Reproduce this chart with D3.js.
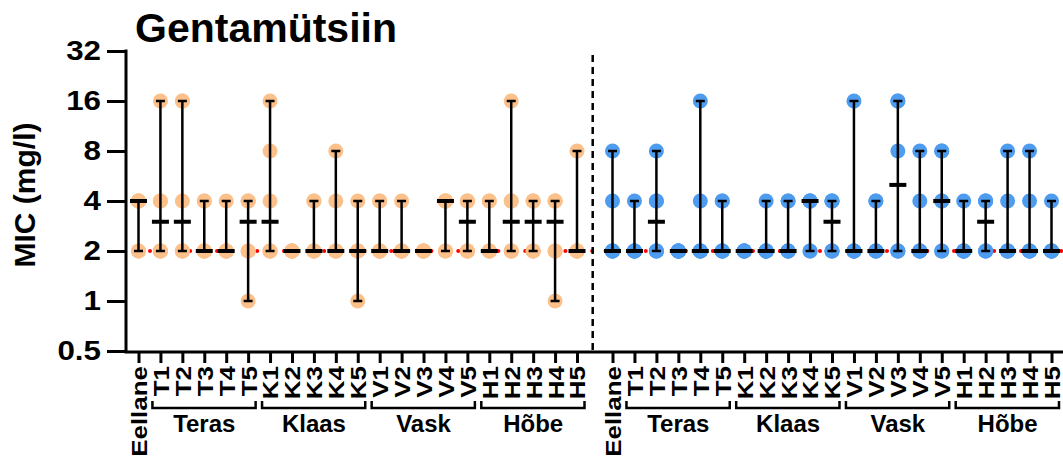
<!DOCTYPE html>
<html>
<head>
<meta charset="utf-8">
<script src="https://cdn.jsdelivr.net/npm/d3@7"></script>
<style>
  html, body { margin: 0; padding: 0; background: #fff; }
  svg { display: block; }
  text { font-family: "Liberation Sans", Arial, Helvetica, sans-serif; font-weight: bold; fill: #000; }
</style>
</head>
<body>
<svg id="chart" width="1063" height="461"></svg>
<script>
// Categories along the x axis (same set in each panel)
const categories = ["Eellane","T1","T2","T3","T4","T5","K1","K2","K3","K4","K5",
                    "V1","V2","V3","V4","V5","H1","H2","H3","H4","H5"];

// Material groups shown with brackets under the tick labels
const groupNames = ["Teras","Klaas","Vask","Hõbe"];
const groupFirst = ["T1","K1","V1","H1"];
const groupLast  = ["T5","K5","V5","H5"];

// Y axis tick values (mg/l), log2 scale
const yTicks = [0.5, 1, 2, 4, 8, 16, 32];

// Reference MIC level drawn as a dotted line
const referenceMic = 2;

// MIC replicates per category, left panel
const leftValues = [
  [2,2,4,4,4,4],    // Eellane
  [2,2,2,4,4,16],   // T1
  [2,2,2,4,16,16],  // T2
  [2,2,2,2,4,4],    // T3
  [2,2,2,2,2,4],    // T4
  [1,2,2,4,4,4],    // T5
  [2,2,2,4,8,16],   // K1
  [2,2,2,2,2,2],    // K2
  [2,2,2,2,4,4],    // K3
  [2,2,2,2,4,8],    // K4
  [1,2,2,2,2,4],    // K5
  [2,2,2,2,4,4],    // V1
  [2,2,2,2,2,4],    // V2
  [2,2,2,2,2,2],    // V3
  [2,2,4,4,4,4],    // V4
  [2,2,2,4,4,4],    // V5
  [2,2,2,2,4,4],    // H1
  [2,2,2,4,4,16],   // H2
  [2,2,2,4,4,4],    // H3
  [1,2,2,4,4,4],    // H4
  [2,2,2,2,2,8]     // H5
];

// MIC replicates per category, right panel
const rightValues = [
  [2,2,2,2,4,8],    // Eellane
  [2,2,2,2,2,4],    // T1
  [2,2,2,4,4,8],    // T2
  [2,2,2,2,2,2],    // T3
  [2,2,2,2,4,16],   // T4
  [2,2,2,2,4,4],    // T5
  [2,2,2,2,2,2],    // K1
  [2,2,2,2,2,4],    // K2
  [2,2,2,2,4,4],    // K3
  [2,2,4,4,4,4],    // K4
  [2,2,2,4,4,4],    // K5
  [2,2,2,2,2,16],   // V1
  [2,2,2,2,4,4],    // V2
  [2,2,2,8,16,16],  // V3
  [2,2,2,2,4,8],    // V4
  [2,2,4,4,8,8],    // V5
  [2,2,2,2,2,4],    // H1
  [2,2,2,4,4,4],    // H2
  [2,2,2,2,4,8],    // H3
  [2,2,2,2,4,8],    // H4
  [2,2,2,2,2,4]     // H5
];

const svg = d3.select("#chart");

const axisX0 = 126, axisY0 = 352, plotTop = 51;
const y = d3.scaleLog().base(2).domain([0.5, 32]).range([351, plotTop]);

const xLeft  = d3.scalePoint().domain(categories).range([138.5, 577]);
const xRight = d3.scalePoint().domain(categories).range([612.5, 1051.5]);

// dotted reference line at MIC = 2
svg.append("line")
  .attr("x1", 136.6).attr("x2", 1063)
  .attr("y1", y(referenceMic)).attr("y2", y(referenceMic))
  .attr("stroke", "#ff0000").attr("stroke-width", 4)
  .attr("stroke-linecap", "round")
  .attr("stroke-dasharray", "0 13.4");

// dashed separator between the two panels
svg.append("line")
  .attr("x1", 592.7).attr("x2", 592.7)
  .attr("y1", 55).attr("y2", axisY0)
  .attr("stroke", "#000").attr("stroke-width", 2.5)
  .attr("stroke-dasharray", "7 5");

// wide bold lettering: glyphs stretched along the text direction
const xLabelStretch = 1.18;
const yLabelStretch = 1.12;

function drawPanel(x, values, color) {
  const g = svg.append("g");
  const rows = categories.map((c, i) => ({
    cat: c,
    vals: values[i],
    min: d3.min(values[i]),
    max: d3.max(values[i]),
    med: d3.median(values[i])
  }));

  // replicate points
  rows.forEach(r => {
    g.selectAll(null)
      .data(r.vals.map(v => ({cat: r.cat, v})))
      .join("circle")
      .attr("cx", d => x(d.cat))
      .attr("cy", d => y(d.v))
      .attr("r", 7.5)
      .attr("fill", color);
  });

  const withRange = rows.filter(r => r.max > r.min);

  // range bars
  g.selectAll(null).data(withRange).join("line")
    .attr("x1", d => x(d.cat)).attr("x2", d => x(d.cat))
    .attr("y1", d => y(d.min)).attr("y2", d => y(d.max))
    .attr("stroke", "#000").attr("stroke-width", 2.5);

  // caps
  ["min", "max"].forEach(k => {
    g.selectAll(null).data(withRange).join("line")
      .attr("x1", d => x(d.cat) - 4.5).attr("x2", d => x(d.cat) + 4.5)
      .attr("y1", d => y(d[k])).attr("y2", d => y(d[k]))
      .attr("stroke", "#000").attr("stroke-width", 2.5);
  });

  // medians
  g.selectAll(null).data(rows).join("line")
    .attr("x1", d => x(d.cat) - 8.5).attr("x2", d => x(d.cat) + 8.5)
    .attr("y1", d => y(d.med)).attr("y2", d => y(d.med))
    .attr("stroke", "#000").attr("stroke-width", 4);

  // x axis ticks and rotated labels
  const ax = svg.append("g")
    .attr("transform", `translate(0,${axisY0})`)
    .call(d3.axisBottom(x).tickSize(11).tickSizeOuter(0));
  ax.select(".domain").remove();
  ax.attr("font-family", null).attr("font-size", null);
  ax.selectAll(".tick line").attr("stroke", "#000").attr("stroke-width", 3);
  ax.selectAll(".tick text")
    .attr("transform", `rotate(-90) scale(${xLabelStretch},1)`)
    .attr("text-anchor", "end")
    .attr("x", -14 / xLabelStretch).attr("y", 0).attr("dy", "0.36em")
    .style("font-size", "22px")
    .attr("fill", "#000");

  // group brackets
  groupNames.forEach((name, i) => {
    const xa = x(groupFirst[i]) - 8, xb = x(groupLast[i]) + 7.5;
    svg.append("path")
      .attr("d", `M${xa},401V408H${xb}V401`)
      .attr("fill", "none").attr("stroke", "#000").attr("stroke-width", 2.5);
    svg.append("text")
      .attr("x", (x(groupFirst[i]) + x(groupLast[i])) / 2)
      .attr("y", 432)
      .attr("text-anchor", "middle")
      .style("font-size", "24px")
      .text(name);
  });
}

drawPanel(xLeft, leftValues, "#fcc08b");
drawPanel(xRight, rightValues, "#4e9cf0");

// x axis baseline
svg.append("line")
  .attr("x1", axisX0 - 1.5).attr("x2", 1063)
  .attr("y1", axisY0).attr("y2", axisY0)
  .attr("stroke", "#000").attr("stroke-width", 3);

// y axis
const yAx = svg.append("g")
  .attr("transform", `translate(${axisX0},0)`)
  .call(d3.axisLeft(y).tickValues(yTicks).tickFormat(d => d).tickSize(19).tickPadding(6).tickSizeOuter(0));
yAx.attr("font-family", null).attr("font-size", null);
yAx.select(".domain").attr("stroke", "#000").attr("stroke-width", 3)
  .attr("d", `M0,${plotTop - 1.5}V${axisY0}`);
yAx.selectAll(".tick line").attr("stroke", "#000").attr("stroke-width", 3);
yAx.selectAll(".tick text")
  .attr("transform", `scale(${yLabelStretch},1)`)
  .attr("x", -25 / yLabelStretch)
  .style("font-size", "28px").attr("fill", "#000");

// y axis title
svg.append("text")
  .attr("transform", "translate(35,195) rotate(-90)")
  .attr("text-anchor", "middle")
  .style("font-size", "30px")
  .text("MIC (mg/l)");

// chart title
svg.append("text")
  .attr("x", 135).attr("y", 42)
  .style("font-size", "41px")
  .text("Gentamütsiin");
</script>
</body>
</html>
